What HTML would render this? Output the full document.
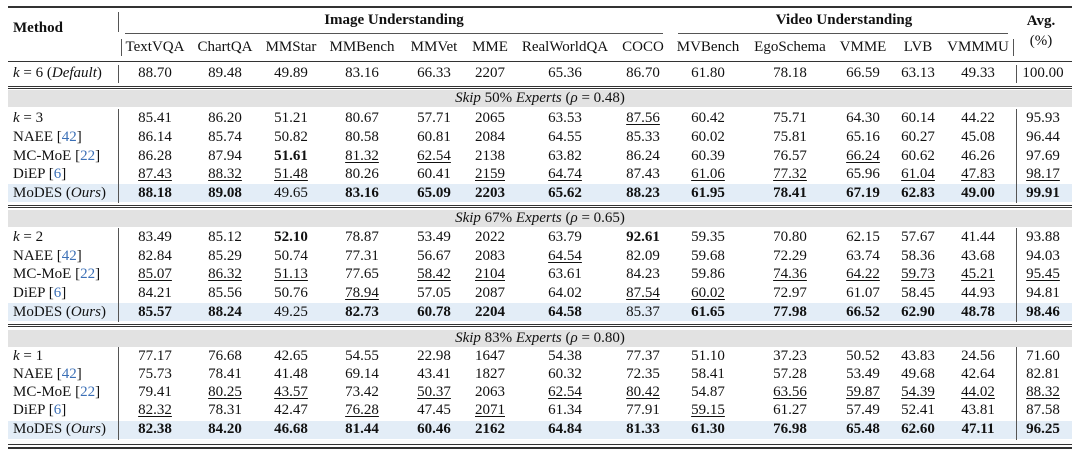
<!DOCTYPE html>
<html><head><meta charset="utf-8"><style>
body{margin:0;background:#fff;width:1080px;height:456px;overflow:hidden;position:relative;font-family:"Liberation Serif",serif;font-size:15px;color:#111}
.r{position:absolute;left:0;width:1080px;height:19px}
.r span{position:absolute;top:0;line-height:19px;transform:translateX(-50%);white-space:nowrap}
.r span.m{transform:none;left:13px}
.r span:nth-child(2){left:155px}.r span:nth-child(3){left:225px}.r span:nth-child(4){left:291px}.r span:nth-child(5){left:362px}
.r span:nth-child(6){left:434px}.r span:nth-child(7){left:490px}.r span:nth-child(8){left:565px}.r span:nth-child(9){left:643px}
.r span:nth-child(10){left:708px}.r span:nth-child(11){left:790px}.r span:nth-child(12){left:863px}.r span:nth-child(13){left:918px}
.r span:nth-child(14){left:978px}.r span:nth-child(15){left:1043px}
b{font-weight:bold}
u{text-decoration:underline;text-underline-offset:2px;text-decoration-thickness:1px}
.c{color:#3b6fb6}
.hl{position:absolute;left:8px;width:1064px;background:#e3edf7}
.band{position:absolute;left:8px;width:1064px;height:17px;background:#e2e2e2;text-align:center;line-height:17px;font-size:15px}
.hr{position:absolute;left:8px;width:1064px;background:#333}
.vb{position:absolute;width:1px;background:#555}
</style></head><body>
<div class="hr" style="top:6px;height:2px"></div>
<div style="position:absolute;left:13px;top:20px;font-weight:bold">Method</div>
<div style="position:absolute;left:394px;top:12px;transform:translateX(-50%);font-weight:bold">Image Understanding</div>
<div style="position:absolute;left:844px;top:12px;transform:translateX(-50%);font-weight:bold">Video Understanding</div>
<div style="position:absolute;left:1041px;top:13px;transform:translateX(-50%);font-weight:bold">Avg.</div>
<div style="position:absolute;left:1041px;top:33px;transform:translateX(-50%)">(%)</div>
<div class="hr" style="left:125px;width:538px;top:33px;height:1px;background:#555"></div>
<div class="hr" style="left:678px;width:330px;top:33px;height:1px;background:#555"></div>
<div class="r" style="top:38px"><span class="m"></span><span>TextVQA</span><span>ChartQA</span><span>MMStar</span><span>MMBench</span><span>MMVet</span><span>MME</span><span>RealWorldQA</span><span>COCO</span><span>MVBench</span><span>EgoSchema</span><span>VMME</span><span>LVB</span><span>VMMMU</span><span></span></div>
<div class="hr" style="top:61px;height:1px"></div>
<div class="r" style="top:64px"><span class="m"><i>k</i> = 6 (<i>Default</i>)</span><span>88.70</span><span>89.48</span><span>49.89</span><span>83.16</span><span>66.33</span><span>2207</span><span>65.36</span><span>86.70</span><span>61.80</span><span>78.18</span><span>66.59</span><span>63.13</span><span>49.33</span><span>100.00</span></div>
<div class="hr" style="top:86px;height:1px"></div><div class="hr" style="top:88px;height:1px"></div>

<div class="band" style="top:90px"><i>Skip</i> 50% <i>Experts</i> (<i>ρ</i> = 0.48)</div>
<div class="hl" style="top:184px;height:18px"></div>
<div class="r" style="top:109px"><span class="m"><i>k</i> = 3</span><span>85.41</span><span>86.20</span><span>51.21</span><span>80.67</span><span>57.71</span><span>2065</span><span>63.53</span><span><u>87.56</u></span><span>60.42</span><span>75.71</span><span>64.30</span><span>60.14</span><span>44.22</span><span>95.93</span></div>
<div class="r" style="top:128px"><span class="m">NAEE [<span class="c" style="position:static;transform:none">42</span>]</span><span>86.14</span><span>85.74</span><span>50.82</span><span>80.58</span><span>60.81</span><span>2084</span><span>64.55</span><span>85.33</span><span>60.02</span><span>75.81</span><span>65.16</span><span>60.27</span><span>45.08</span><span>96.44</span></div>
<div class="r" style="top:147px"><span class="m">MC-MoE [<span class="c" style="position:static;transform:none">22</span>]</span><span>86.28</span><span>87.94</span><span><b>51.61</b></span><span><u>81.32</u></span><span><u>62.54</u></span><span>2138</span><span>63.82</span><span>86.24</span><span>60.39</span><span>76.57</span><span><u>66.24</u></span><span>60.62</span><span>46.26</span><span>97.69</span></div>
<div class="r" style="top:165px"><span class="m">DiEP [<span class="c" style="position:static;transform:none">6</span>]</span><span><u>87.43</u></span><span><u>88.32</u></span><span><u>51.48</u></span><span>80.26</span><span>60.41</span><span><u>2159</u></span><span><u>64.74</u></span><span>87.43</span><span><u>61.06</u></span><span><u>77.32</u></span><span>65.96</span><span><u>61.04</u></span><span><u>47.83</u></span><span><u>98.17</u></span></div>
<div class="r" style="top:184px"><span class="m">MoDES (<i>Ours</i>)</span><span><b>88.18</b></span><span><b>89.08</b></span><span>49.65</span><span><b>83.16</b></span><span><b>65.09</b></span><span><b>2203</b></span><span><b>65.62</b></span><span><b>88.23</b></span><span><b>61.95</b></span><span><b>78.41</b></span><span><b>67.19</b></span><span><b>62.83</b></span><span><b>49.00</b></span><span><b>99.91</b></span></div>
<div class="hr" style="top:205px;height:1px"></div><div class="hr" style="top:207px;height:1px"></div>

<div class="band" style="top:210px"><i>Skip</i> 67% <i>Experts</i> (<i>ρ</i> = 0.65)</div>
<div class="hl" style="top:303px;height:18px"></div>
<div class="r" style="top:228px"><span class="m"><i>k</i> = 2</span><span>83.49</span><span>85.12</span><span><b>52.10</b></span><span>78.87</span><span>53.49</span><span>2022</span><span>63.79</span><span><b>92.61</b></span><span>59.35</span><span>70.80</span><span>62.15</span><span>57.67</span><span>41.44</span><span>93.88</span></div>
<div class="r" style="top:247px"><span class="m">NAEE [<span class="c" style="position:static;transform:none">42</span>]</span><span>82.84</span><span>85.29</span><span>50.74</span><span>77.31</span><span>56.67</span><span>2083</span><span><u>64.54</u></span><span>82.09</span><span>59.68</span><span>72.29</span><span>63.74</span><span>58.36</span><span>43.68</span><span>94.03</span></div>
<div class="r" style="top:265px"><span class="m">MC-MoE [<span class="c" style="position:static;transform:none">22</span>]</span><span><u>85.07</u></span><span><u>86.32</u></span><span><u>51.13</u></span><span>77.65</span><span><u>58.42</u></span><span><u>2104</u></span><span>63.61</span><span>84.23</span><span>59.86</span><span><u>74.36</u></span><span><u>64.22</u></span><span><u>59.73</u></span><span><u>45.21</u></span><span><u>95.45</u></span></div>
<div class="r" style="top:284px"><span class="m">DiEP [<span class="c" style="position:static;transform:none">6</span>]</span><span>84.21</span><span>85.56</span><span>50.76</span><span><u>78.94</u></span><span>57.05</span><span>2087</span><span>64.02</span><span><u>87.54</u></span><span><u>60.02</u></span><span>72.97</span><span>61.07</span><span>58.45</span><span>44.93</span><span>94.81</span></div>
<div class="r" style="top:303px"><span class="m">MoDES (<i>Ours</i>)</span><span><b>85.57</b></span><span><b>88.24</b></span><span>49.25</span><span><b>82.73</b></span><span><b>60.78</b></span><span><b>2204</b></span><span><b>64.58</b></span><span>85.37</span><span><b>61.65</b></span><span><b>77.98</b></span><span><b>66.52</b></span><span><b>62.90</b></span><span><b>48.78</b></span><span><b>98.46</b></span></div>
<div class="hr" style="top:324px;height:1px"></div><div class="hr" style="top:326px;height:1px"></div>

<div class="band" style="top:330px"><i>Skip</i> 83% <i>Experts</i> (<i>ρ</i> = 0.80)</div>
<div class="hl" style="top:421px;height:18px"></div>
<div class="r" style="top:347px"><span class="m"><i>k</i> = 1</span><span>77.17</span><span>76.68</span><span>42.65</span><span>54.55</span><span>22.98</span><span>1647</span><span>54.38</span><span>77.37</span><span>51.10</span><span>37.23</span><span>50.52</span><span>43.83</span><span>24.56</span><span>71.60</span></div>
<div class="r" style="top:365px"><span class="m">NAEE [<span class="c" style="position:static;transform:none">42</span>]</span><span>75.73</span><span>78.41</span><span>41.48</span><span>69.14</span><span>43.41</span><span>1827</span><span>60.32</span><span>72.35</span><span>58.41</span><span>57.28</span><span>53.49</span><span>49.68</span><span>42.64</span><span>82.81</span></div>
<div class="r" style="top:383px"><span class="m">MC-MoE [<span class="c" style="position:static;transform:none">22</span>]</span><span>79.41</span><span><u>80.25</u></span><span><u>43.57</u></span><span>73.42</span><span><u>50.37</u></span><span>2063</span><span><u>62.54</u></span><span><u>80.42</u></span><span>54.87</span><span><u>63.56</u></span><span><u>59.87</u></span><span><u>54.39</u></span><span><u>44.02</u></span><span><u>88.32</u></span></div>
<div class="r" style="top:401px"><span class="m">DiEP [<span class="c" style="position:static;transform:none">6</span>]</span><span><u>82.32</u></span><span>78.31</span><span>42.47</span><span><u>76.28</u></span><span>47.45</span><span><u>2071</u></span><span>61.34</span><span>77.91</span><span><u>59.15</u></span><span>61.27</span><span>57.49</span><span>52.41</span><span>43.81</span><span>87.58</span></div>
<div class="r" style="top:420px"><span class="m">MoDES (<i>Ours</i>)</span><span><b>82.38</b></span><span><b>84.20</b></span><span><b>46.68</b></span><span><b>81.44</b></span><span><b>60.46</b></span><span><b>2162</b></span><span><b>64.84</b></span><span><b>81.33</b></span><span><b>61.30</b></span><span><b>76.98</b></span><span><b>65.48</b></span><span><b>62.60</b></span><span><b>47.11</b></span><span><b>96.25</b></span></div>
<div class="hr" style="top:444px;height:1px"></div><div class="hr" style="top:447px;height:2px"></div>

<div class="vb" style="left:118px;top:12px;height:20px"></div>
<div class="vb" style="left:121px;top:39px;height:17px"></div>
<div class="vb" style="left:1013px;top:39px;height:17px"></div>
<div class="vb" style="left:118px;top:65px;height:18px"></div>
<div class="vb" style="left:1016px;top:65px;height:18px"></div>
<div class="vb" style="left:118px;top:109px;height:94px"></div>
<div class="vb" style="left:1016px;top:109px;height:94px"></div>
<div class="vb" style="left:118px;top:228px;height:94px"></div>
<div class="vb" style="left:1016px;top:228px;height:94px"></div>
<div class="vb" style="left:118px;top:347px;height:93px"></div>
<div class="vb" style="left:1016px;top:347px;height:93px"></div>
</body></html>
